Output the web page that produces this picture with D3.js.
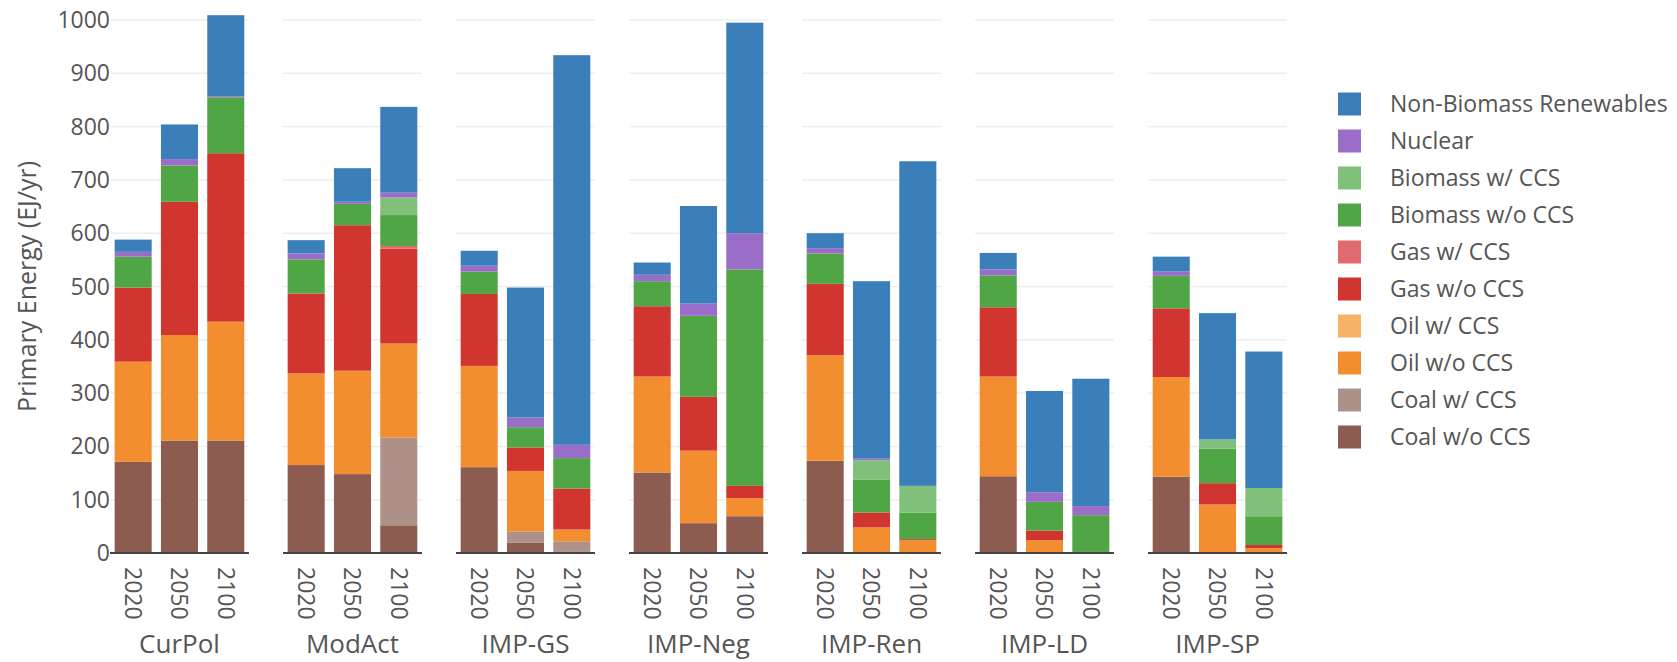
<!DOCTYPE html>
<html>
<head>
<meta charset="utf-8">
<script src="https://cdn.jsdelivr.net/npm/d3@7"></script>
<style>
  body { margin: 0; background: #fff; }
  svg { font-family: 'Open Sans', sans-serif; }
</style>
</head>
<body>
<div id="chart"></div>
<script>
const scenarios = ['CurPol', 'ModAct', 'IMP-GS', 'IMP-Neg', 'IMP-Ren', 'IMP-LD', 'IMP-SP'];
const years = ['2020', '2050', '2100'];
const yTicks = [0, 100, 200, 300, 400, 500, 600, 700, 800, 900, 1000];

// values per scenario, in order 2020, 2050, 2100
const coalNoCCS = [171, 211, 211, 165, 148, 52, 161, 19, 2, 151, 56, 69, 173, 0, 0, 144, 0, 0, 143, 0, 0];
const coalCCS = [0, 0, 0, 0, 0, 165, 0, 21, 20, 0, 0, 0, 0, 0, 0, 0, 0, 0, 0, 0, 0];
const oilNoCCS = [188, 198, 223, 172, 194, 176, 190, 114, 22, 180, 136, 34, 198, 48, 24, 187, 24, 2, 187, 91, 9];
const oilCCS = [0, 0, 0, 0, 0, 0, 0, 0, 0, 0, 0, 0, 0, 0, 0, 0, 0, 0, 0, 0, 0];
const gasNoCCS = [139, 250, 316, 150, 273, 178, 135, 44, 77, 132, 101, 23, 134, 28, 2, 130, 18, 0, 129, 40, 6];
const gasCCS = [0, 0, 0, 0, 0, 5, 0, 0, 0, 0, 0, 0, 0, 0, 0, 0, 0, 0, 0, 0, 0];
const bioNoCCS = [58, 68, 105, 64, 40, 58, 42, 38, 57, 47, 152, 406, 57, 62, 50, 60, 54, 69, 61, 65, 54];
const bioCCS = [0, 0, 0, 0, 0, 33, 0, 0, 0, 0, 0, 0, 0, 36, 50, 0, 0, 0, 0, 17, 53];
const nuclear = [9, 12, 2, 11, 4, 9, 11, 18, 25, 12, 23, 68, 10, 3, 0, 11, 18, 17, 8, 0, 0];
const renewables = [23, 65, 152, 25, 63, 161, 28, 244, 731, 23, 183, 395, 28, 333, 609, 31, 190, 239, 28, 237, 256];

const seriesNames = ['Coal w/o CCS', 'Coal w/ CCS', 'Oil w/o CCS', 'Oil w/ CCS', 'Gas w/o CCS',
  'Gas w/ CCS', 'Biomass w/o CCS', 'Biomass w/ CCS', 'Nuclear', 'Non-Biomass Renewables'];
const seriesValues = [coalNoCCS, coalCCS, oilNoCCS, oilCCS, gasNoCCS, gasCCS, bioNoCCS, bioCCS, nuclear, renewables];
const seriesColors = ['#8c5c50', '#ae9188', '#f28e30', '#f6b266', '#d0362f',
  '#e06b6e', '#50a544', '#80c07b', '#9a6dc8', '#3b7fba'];

const width = 1677;
const height = 662;

const rows = [];
scenarios.forEach((s, i) => {
  years.forEach((yr, j) => {
    const row = { scenario: s, year: yr };
    seriesNames.forEach((name, k) => { row[name] = seriesValues[k][i * 3 + j]; });
    rows.push(row);
  });
});

const stacked = d3.stack().keys(seriesNames)(rows);

const color = d3.scaleOrdinal(seriesNames, seriesColors);

const svg = d3.select('#chart')
  .append('svg')
  .attr('width', width)
  .attr('height', height);

const y = d3.scaleLinear()
  .domain([0, 1000])
  .range([553, 20]);

const xPanel = d3.scaleBand()
  .domain(scenarios)
  .range([110, 1287])
  .paddingInner(0.197);

const xYear = d3.scaleBand()
  .domain(years)
  .range([0, xPanel.bandwidth()])
  .paddingInner(0.2)
  .paddingOuter(0.1);

const panels = svg.selectAll('g.panel')
  .data(scenarios)
  .enter()
  .append('g')
  .attr('class', 'panel')
  .attr('transform', d => `translate(${xPanel(d)}, 0)`);

// gridlines
panels.selectAll('line.grid')
  .data(yTicks.filter(t => t > 0))
  .enter()
  .append('line')
  .attr('class', 'grid')
  .attr('x1', 0)
  .attr('x2', xPanel.bandwidth())
  .attr('y1', d => y(d))
  .attr('y2', d => y(d))
  .attr('stroke', '#eeeeee')
  .attr('stroke-width', 1.5);

// stacked bars
stacked.forEach(layer => {
  panels.selectAll(null)
    .data(s => layer.filter(d => d.data.scenario === s))
    .enter()
    .append('rect')
    .attr('x', d => xYear(d.data.year))
    .attr('width', xYear.bandwidth())
    .attr('y', d => y(d[1]))
    .attr('height', d => Math.max(0, y(d[0]) - y(d[1])))
    .attr('fill', color(layer.key));
});

// zero line
panels.append('line')
  .attr('x1', 0)
  .attr('x2', xPanel.bandwidth())
  .attr('y1', y(0))
  .attr('y2', y(0))
  .attr('stroke', '#444')
  .attr('stroke-width', 2);

// year labels
panels.selectAll('text.year')
  .data(years)
  .enter()
  .append('text')
  .attr('class', 'year')
  .attr('transform', d => `translate(${xYear(d) + xYear.bandwidth() / 2}, 567) rotate(90)`)
  .attr('dy', '0.35em')
  .attr('font-size', 23)
  .attr('fill', '#555')
  .text(d => d);

// scenario labels
panels.append('text')
  .attr('x', xPanel.bandwidth() / 2)
  .attr('y', 653)
  .attr('text-anchor', 'middle')
  .attr('font-size', 26)
  .attr('fill', '#555')
  .text(d => d);

// y axis tick labels
svg.append('g')
  .selectAll('text')
  .data(yTicks)
  .enter()
  .append('text')
  .attr('x', 110)
  .attr('y', d => y(d))
  .attr('dy', '0.35em')
  .attr('text-anchor', 'end')
  .attr('font-size', 23)
  .attr('fill', '#555')
  .text(d => d);

svg.append('text')
  .attr('transform', `translate(36, ${(y(0) + y(1000)) / 2}) rotate(-90)`)
  .attr('text-anchor', 'middle')
  .attr('font-size', 25)
  .attr('fill', '#555')
  .text('Primary Energy (EJ/yr)');

// legend
const legendNames = seriesNames.slice().reverse();
const legendY = d3.scalePoint()
  .domain(legendNames)
  .range([104, 437]);

const legend = svg.append('g')
  .selectAll('g')
  .data(legendNames)
  .enter()
  .append('g')
  .attr('transform', d => `translate(1338, ${legendY(d)})`);

legend.append('rect')
  .attr('x', 0)
  .attr('y', -11.5)
  .attr('width', 23)
  .attr('height', 23)
  .attr('fill', d => color(d));

legend.append('text')
  .attr('x', 52)
  .attr('dy', '0.35em')
  .attr('font-size', 23)
  .attr('fill', '#555')
  .text(d => d);
</script>
</body>
</html>
